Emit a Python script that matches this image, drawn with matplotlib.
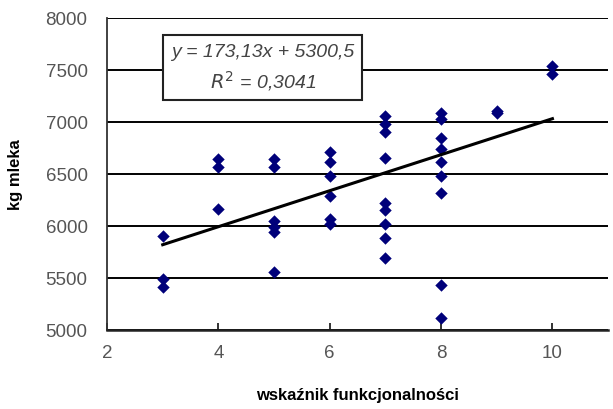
import numpy as np
import matplotlib.pyplot as plt

plt.rcParams['font.family'] = ['Liberation Sans', 'DejaVu Sans']

# wskaźnik funkcjonalności vs kg mleka
x_vals = [3, 3, 3,
          4, 4, 4,
          5, 5, 5, 5, 5, 5,
          6, 6, 6, 6, 6, 6,
          7, 7, 7, 7, 7, 7, 7, 7, 7,
          8, 8, 8, 8, 8, 8, 8, 8, 8,
          9, 9,
          10, 10]
y_vals = [5900, 5490, 5410,
          6640, 6570, 6160,
          6640, 6570, 6045, 5990, 5940, 5555,
          6715, 6620, 6485, 6290, 6065, 6020,
          7055, 6980, 6905, 6650, 6225, 6155, 6020, 5880, 5690,
          7090, 7030, 6845, 6740, 6620, 6485, 6315, 5435, 5120,
          7110, 7085,
          7540, 7465]

slope = 173.13
intercept = 5300.5
r2_text = "0,3041"

fig = plt.figure(figsize=(6.13, 4.10), dpi=100)
ax = fig.add_axes([0.1746, 0.1927, 0.8174, 0.761])

ax.set_xlim(2, 11)
ax.set_ylim(5000, 8000)
ax.set_xticks([2, 4, 6, 8, 10])
ax.set_yticks(np.arange(5000, 8001, 500))

ax.grid(axis='y', color='black', linewidth=1.4, zorder=1)
ax.set_axisbelow(True)

ax.scatter(x_vals, y_vals, marker='D', s=40, color='#00007a', zorder=3, linewidths=0)

xs = np.array([min(x_vals), max(x_vals)])
ax.plot(xs, slope * xs + intercept, color='black', linewidth=2.2, zorder=4)

for s in ['top', 'right']:
    ax.spines[s].set_visible(False)
ax.spines['left'].set_color('#333333')
ax.spines['bottom'].set_color('#222222')
ax.spines['left'].set_linewidth(1.3)
ax.spines['bottom'].set_linewidth(1.8)

ax.tick_params(axis='x', direction='in', length=5, width=1.3, colors='#222222',
               labelcolor='#555555', labelsize=13.5, pad=10)
ax.tick_params(axis='y', length=0, labelcolor='#555555', labelsize=13.5, pad=14)

ax.set_xlabel('wskaźnik funkcjonalności', fontsize=12, fontweight='bold', labelpad=19)
ax.set_ylabel('kg mleka', fontsize=12, fontweight='bold', labelpad=16)

eq = "y = 173,13x + 5300,5\n$R^2$ = " + r2_text
ax.text(0.311, 0.842, eq, transform=ax.transAxes, ha='center', va='center',
        fontsize=14, style='italic', color='#444444', linespacing=1.45,
        bbox=dict(boxstyle='square,pad=0.4', facecolor='white', edgecolor='#222222',
                  linewidth=1.5), zorder=5)

fig.savefig('out.png', dpi=100)
